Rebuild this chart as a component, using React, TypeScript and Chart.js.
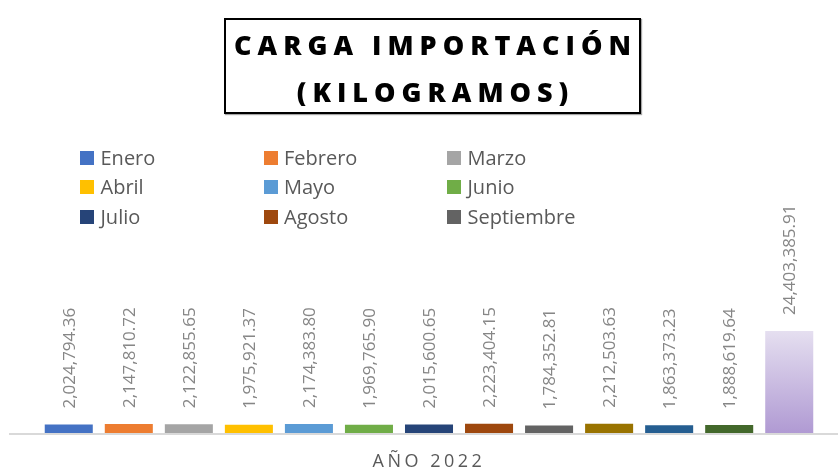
import React, { useEffect, useRef } from 'react';
import { Chart, registerables } from 'chart.js';

Chart.register(...registerables);

// ---- Data ----
const TITLE_LINES = ['CARGA IMPORTACIÓN', '(KILOGRAMOS)'];
const CATEGORY = 'AÑO 2022';
const MONTHS = [
  'Enero', 'Febrero', 'Marzo', 'Abril', 'Mayo', 'Junio',
  'Julio', 'Agosto', 'Septiembre', 'Octubre', 'Noviembre', 'Diciembre',
];
const MONTH_VALUES = [
  2024794.36, 2147810.72, 2122855.65, 1975921.37, 2174383.8, 1969765.9,
  2015600.65, 2223404.15, 1784352.81, 2212503.63, 1863373.23, 1888619.64,
];
const TOTAL_NAME = 'Total';
const TOTAL_VALUE = 24403385.91;
const MONTH_COLORS = [
  '#4472C4', '#ED7D31', '#A5A5A5', '#FFC000', '#5B9BD5', '#70AD47',
  '#264478', '#9E480E', '#636363', '#997300', '#255E91', '#43682B',
];
const TOTAL_COLOR_TOP = '#e5dff0';
const TOTAL_COLOR_BOTTOM = '#b09ad3';
const LEGEND_VISIBLE = 9; // the reference legend is cut after Septiembre
const Y_MAX = 50000000;

const fmt = (v: number) =>
  v.toLocaleString('en-US', { minimumFractionDigits: 2, maximumFractionDigits: 2 });

export default function App() {
  const ref = useRef<HTMLCanvasElement>(null);

  useEffect(() => {
    const canvas = ref.current;
    if (!canvas) return;

    const decor = {
      id: 'decor',
      beforeDatasetsDraw(chart: any) {
        const { ctx } = chart;
        const y0 = chart.scales.y.getPixelForValue(0);
        ctx.save();
        ctx.fillStyle = '#d9d9d9';
        ctx.fillRect(9, y0, chart.width - 9, 2);
        ctx.restore();
      },
      afterDatasetsDraw(chart: any) {
        const { ctx } = chart;
        chart.data.datasets.forEach((ds: any, i: number) => {
          const el = chart.getDatasetMeta(i).data[0];
          if (!el) return;
          ctx.save();
          ctx.translate(el.x, el.y - 16);
          ctx.rotate(-Math.PI / 2);
          ctx.font = '17px "Open Sans"';
          ctx.fillStyle = '#868686';
          ctx.textAlign = 'left';
          ctx.textBaseline = 'alphabetic';
          ctx.fillText(fmt(ds.data[0]), 0, 6);
          ctx.restore();
        });
      },
      afterDraw(chart: any) {
        const { ctx } = chart;
        const cx = chart.scales.x.getPixelForValue(0);
        ctx.save();
        ctx.font = '18px "Open Sans"';
        (ctx as any).letterSpacing = '3.5px';
        ctx.fillStyle = '#595959';
        ctx.textAlign = 'center';
        ctx.textBaseline = 'alphabetic';
        ctx.fillText(CATEGORY, cx, 467);
        ctx.restore();
      },
    };

    const datasets: any[] = MONTHS.map((name, i) => ({
      label: name,
      data: [MONTH_VALUES[i]],
      backgroundColor: MONTH_COLORS[i],
      borderWidth: 0,
    }));
    datasets.push({
      label: TOTAL_NAME,
      data: [TOTAL_VALUE],
      borderWidth: 0,
      backgroundColor: (c: any) => {
        const chart = c.chart;
        if (!chart.chartArea) return TOTAL_COLOR_BOTTOM;
        const ys = chart.scales.y;
        const top = ys.getPixelForValue(TOTAL_VALUE);
        const bottom = ys.getPixelForValue(0);
        const g = chart.ctx.createLinearGradient(0, top, 0, bottom);
        g.addColorStop(0, TOTAL_COLOR_TOP);
        g.addColorStop(1, TOTAL_COLOR_BOTTOM);
        return g;
      },
    });

    const chart = new Chart(canvas, {
      type: 'bar',
      data: { labels: [CATEGORY], datasets },
      options: {
        responsive: false,
        animation: false,
        devicePixelRatio: 1,
        layout: { padding: { top: 224, bottom: 36, left: 21, right: 1 } },
        datasets: { bar: { categoryPercentage: 0.9565, barPercentage: 0.8 } } as any,
        plugins: {
          legend: { display: false },
          title: { display: false },
          tooltip: { enabled: false },
        },
        scales: {
          x: { display: false },
          y: { display: false, min: 0, max: Y_MAX },
        },
      },
      plugins: [decor],
    });

    return () => chart.destroy();
  }, []);

  const legendItems = MONTHS.slice(0, LEGEND_VISIBLE).map((name, i) => ({
    name,
    color: MONTH_COLORS[i],
  }));

  return (
    <div style={{ position: 'absolute', left: 0, top: 0, width: 838, height: 469, background: '#fff', overflow: 'hidden' }}>
      <canvas ref={ref} width={838} height={469} style={{ position: 'absolute', left: 0, top: 0, width: 838, height: 469 }} />
      <div
        style={{
          position: 'absolute',
          left: 224,
          top: 18,
          width: 417,
          height: 96,
          boxSizing: 'border-box',
          border: '2px solid #000',
          boxShadow: '1px 1px 1px rgba(0,0,0,0.35)',
          background: '#fff',
          fontFamily: '"Open Sans", sans-serif',
          fontWeight: 800,
          fontSize: 27,
          lineHeight: '47px',
          letterSpacing: '6px',
          paddingLeft: 6,
          paddingTop: 1,
          textAlign: 'center',
          color: '#000',
        }}
      >
        {TITLE_LINES.map((l) => (
          <div key={l} style={{ whiteSpace: 'nowrap' }}>{l}</div>
        ))}
      </div>
      {legendItems.map((it, i) => {
        const col = i % 3;
        const row = Math.floor(i / 3);
        const left = 80 + col * 183.5;
        const top = 158 + row * 29.25 - 14;
        return (
          <div
            key={it.name}
            style={{
              position: 'absolute',
              left,
              top,
              height: 28,
              display: 'flex',
              alignItems: 'center',
              fontFamily: '"Open Sans", sans-serif',
              fontSize: 20,
              lineHeight: '28px',
              color: '#595959',
              whiteSpace: 'nowrap',
            }}
          >
            <span style={{ display: 'inline-block', width: 14, height: 14, background: it.color, marginRight: 6.5 }} />
            <span>{it.name}</span>
          </div>
        );
      })}
    </div>
  );
}
